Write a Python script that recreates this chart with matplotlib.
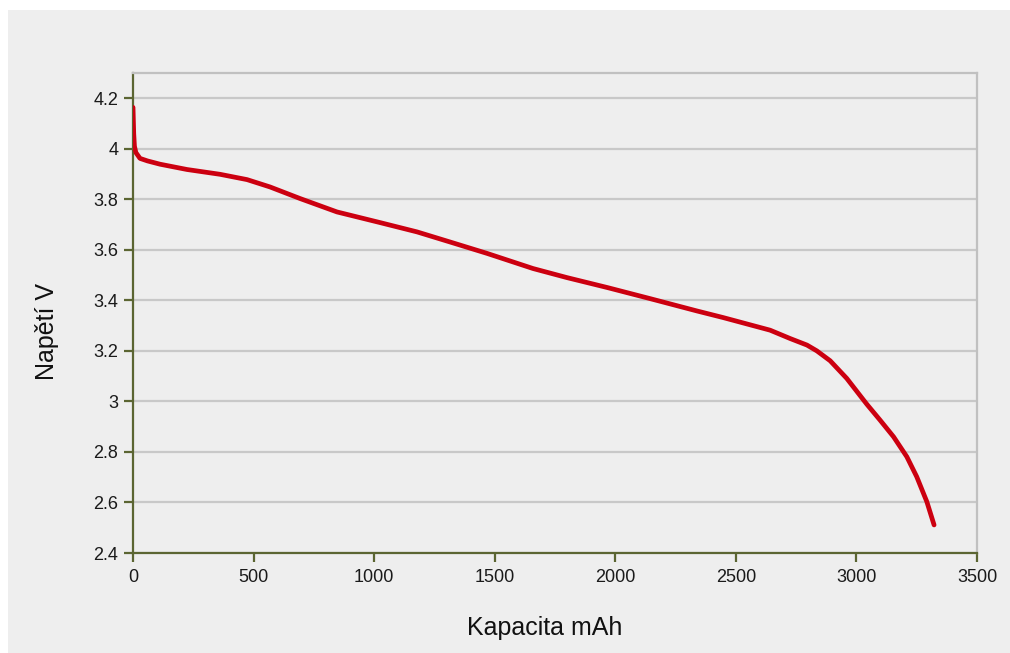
import matplotlib
matplotlib.use("Agg")
import matplotlib.pyplot as plt
from matplotlib.patches import Rectangle

capacity_mah = [0, 3, 6, 12, 29, 60, 112, 224, 361, 473, 568, 693, 846, 1024, 1178,
                1315, 1468, 1659, 1800, 1966, 2144, 2339, 2447, 2642, 2725, 2795,
                2836, 2891, 2960, 3043, 3098, 3154, 3209, 3250, 3292, 3322]
voltage_v = [4.164, 4.06, 4.01, 3.985, 3.962, 3.952, 3.939, 3.918, 3.899, 3.878, 3.849,
             3.803, 3.750, 3.708, 3.671, 3.631, 3.586, 3.526, 3.490, 3.451, 3.407,
             3.358, 3.332, 3.282, 3.249, 3.223, 3.200, 3.161, 3.091, 2.989, 2.926,
             2.860, 2.781, 2.702, 2.603, 2.511]
x_ticks = [0, 500, 1000, 1500, 2000, 2500, 3000, 3500]
y_ticks = [2.4, 2.6, 2.8, 3.0, 3.2, 3.4, 3.6, 3.8, 4.0, 4.2]
y_tick_labels = ["2.4", "2.6", "2.8", "3", "3.2", "3.4", "3.6", "3.8", "4", "4.2"]

plt.rcParams['font.family'] = ['Liberation Sans', 'DejaVu Sans']

W, H = 1010, 653
fig = plt.figure(figsize=(W / 100, H / 100), dpi=100)
fig.patch.set_facecolor('white')
fig.patches.append(Rectangle((8 / W, 0), 1 - 8 / W, 1 - 10 / H, transform=fig.transFigure,
                             facecolor='#eeeeee', edgecolor='none', zorder=-10))

ax = fig.add_axes([133 / W, 1 - 553 / H, (977 - 133) / W, (553 - 73) / H])
ax.set_zorder(1)
ax.set_facecolor('#eeeeee')
ax.plot(capacity_mah, voltage_v, color='#cc0010', lw=3.4, solid_capstyle='round',
        solid_joinstyle='round', zorder=3)

ax.set_xlim(0, 3500)
ax.set_ylim(2.4, 4.3)
ax.set_xticks(x_ticks)
ax.set_xticklabels([str(t) for t in x_ticks])
ax.set_yticks(y_ticks)
ax.set_yticklabels(y_tick_labels)
ax.grid(axis='y', color='#c8c8c8', lw=1.6, zorder=1)
ax.set_axisbelow(True)

olive = '#5b6532'
for s in ['left', 'bottom']:
    ax.spines[s].set_color(olive)
    ax.spines[s].set_linewidth(1.6)
for s in ['top', 'right']:
    ax.spines[s].set_color('#c0c0c0')
    ax.spines[s].set_linewidth(1.6)
ax.tick_params(axis='both', color=olive, width=1.6, length=6.5, labelsize=13,
               labelcolor='#1a1a1a', direction='out')
ax.tick_params(axis='y', pad=4)
ax.tick_params(axis='x', pad=5)

fig.text(545 / W, 1 - 628 / H, 'Kapacita mAh', fontsize=18, color='#111111',
         ha='center', va='center')
fig.text(47 / W, 1 - 332 / H, 'Napětí V', fontsize=18, color='#111111',
         ha='center', va='center', rotation=90)

fig.savefig('out.png', dpi=100, facecolor=fig.get_facecolor())
